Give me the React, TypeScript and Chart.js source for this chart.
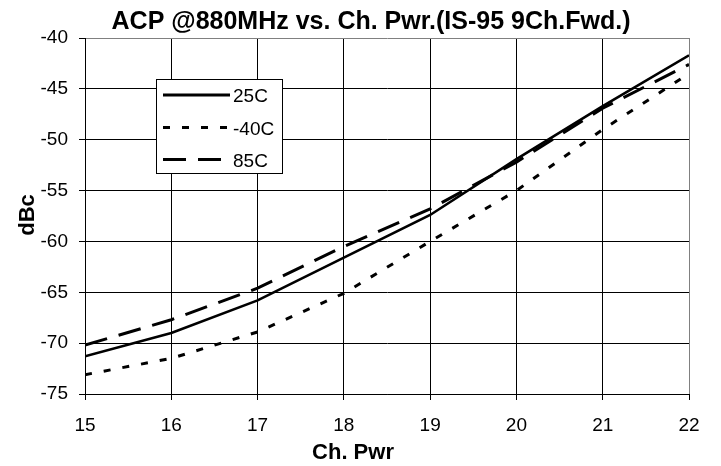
import React, { useEffect, useRef } from 'react';
import { Chart, registerables } from 'chart.js';

Chart.register(...registerables);

const xValues = [15, 16, 17, 18, 19, 20, 21, 22];
const series25C = [-71.3, -69.0, -65.8, -61.6, -57.4, -51.9, -46.7, -41.7];
const seriesM40C = [-73.1, -71.5, -68.9, -65.1, -60.0, -55.0, -49.0, -43.5];
const series85C = [-70.2, -67.7, -64.6, -60.5, -56.8, -52.2, -46.9, -42.6];
const seriesLabels = ['25C', '-40C', '85C'];
const chartTitle = 'ACP @880MHz vs. Ch. Pwr.(IS-95 9Ch.Fwd.)';
const xTitle = 'Ch. Pwr';
const yTitle = 'dBc';

const FONT = '"Liberation Sans", Arial, Helvetica, sans-serif';

const toPoints = (ys: number[]) => xValues.map((x, i) => ({ x, y: ys[i] }));

const overlayPlugin = {
  id: 'overlay',
  afterDraw(chart: any) {
    const ctx = chart.ctx as CanvasRenderingContext2D;
    const area = chart.chartArea;
    ctx.save();
    ctx.fillStyle = '#000';
    // Chart title
    ctx.font = `bold 25px ${FONT}`;
    ctx.textAlign = 'center';
    ctx.textBaseline = 'alphabetic';
    ctx.fillText(chartTitle, 371, 28.5);
    // X axis title
    ctx.font = `bold 22px ${FONT}`;
    ctx.fillText(xTitle, 353, 458.5);
    // Y axis title
    ctx.save();
    ctx.translate(33.5, (area.top + area.bottom) / 2 - 1);
    ctx.rotate(-Math.PI / 2);
    ctx.fillText(yTitle, 0, 0);
    ctx.restore();

    // Legend
    const bx = 156, by = 79, bw = 127, bh = 95;
    ctx.fillStyle = '#fff';
    ctx.fillRect(bx, by, bw, bh);
    ctx.strokeStyle = '#000';
    ctx.lineWidth = 1;
    ctx.setLineDash([]);
    ctx.strokeRect(bx + 0.5, by + 0.5, bw - 1, bh - 1);
    const rows = [95, 127.5, 159.5];
    chart.data.datasets.forEach((ds: any, i: number) => {
      const y = rows[i];
      ctx.strokeStyle = '#000';
      ctx.lineWidth = 3;
      ctx.lineCap = 'butt';
      ctx.setLineDash(ds.borderDash || []);
      ctx.beginPath();
      ctx.moveTo(163, y);
      ctx.lineTo(230, y);
      ctx.stroke();
      ctx.setLineDash([]);
      ctx.fillStyle = '#000';
      ctx.font = `19px ${FONT}`;
      ctx.textAlign = 'left';
      ctx.textBaseline = 'alphabetic';
      ctx.fillText(ds.label, 233, y + 7);
    });
    ctx.restore();
  },
};

export default function App() {
  const canvasRef = useRef<HTMLCanvasElement | null>(null);

  useEffect(() => {
    const canvas = canvasRef.current;
    if (!canvas) return;
    const chart = new Chart(canvas, {
      type: 'line',
      data: {
        datasets: [
          {
            label: seriesLabels[0],
            data: toPoints(series25C),
            borderColor: '#000',
            borderWidth: 2.6,
            borderDash: [],
            pointRadius: 0,
            tension: 0,
            fill: false,
          },
          {
            label: seriesLabels[1],
            data: toPoints(seriesM40C),
            borderColor: '#000',
            borderWidth: 3,
            borderDash: [7, 12],
            borderCapStyle: 'butt',
            pointRadius: 0,
            tension: 0,
            fill: false,
          },
          {
            label: seriesLabels[2],
            data: toPoints(series85C),
            borderColor: '#000',
            borderWidth: 3,
            borderDash: [23, 12],
            borderCapStyle: 'butt',
            pointRadius: 0,
            tension: 0,
            fill: false,
          },
        ],
      },
      options: {
        responsive: false,
        animation: false,
        devicePixelRatio: 1,
        layout: { padding: { top: 38, right: 32, left: 0, bottom: 0 } },
        plugins: {
          legend: { display: false },
          title: { display: false },
          tooltip: { enabled: false },
        },
        scales: {
          x: {
            type: 'linear',
            min: 15,
            max: 22,
            ticks: {
              stepSize: 1,
              color: '#000',
              font: { family: FONT, size: 19 },
              padding: 14,
              maxRotation: 0,
            },
            grid: {
              color: (c: any) => (c.tick && c.tick.value === 22 ? '#808080' : '#000'),
              tickColor: '#000',
              tickLength: 6,
              lineWidth: 1,
            },
            border: { color: '#000', width: 1 },
            afterFit: (s: any) => {
              s.height = 72;
            },
          },
          y: {
            type: 'linear',
            min: -75,
            max: -40,
            ticks: {
              stepSize: 5,
              color: '#000',
              font: { family: FONT, size: 19 },
              padding: 11,
            },
            grid: {
              color: (c: any) => (c.tick && c.tick.value === -40 ? '#808080' : '#000'),
              tickColor: '#000',
              tickLength: 6,
              lineWidth: 1,
            },
            border: { color: '#000', width: 1 },
            afterFit: (s: any) => {
              s.width = 85;
            },
          },
        },
      },
      plugins: [overlayPlugin],
    });
    return () => chart.destroy();
  }, []);

  return (
    <div style={{ position: 'absolute', left: 0, top: 0, width: 721, height: 466, background: '#fff' }}>
      <canvas ref={canvasRef} width={721} height={466} style={{ width: 721, height: 466 }} />
    </div>
  );
}
